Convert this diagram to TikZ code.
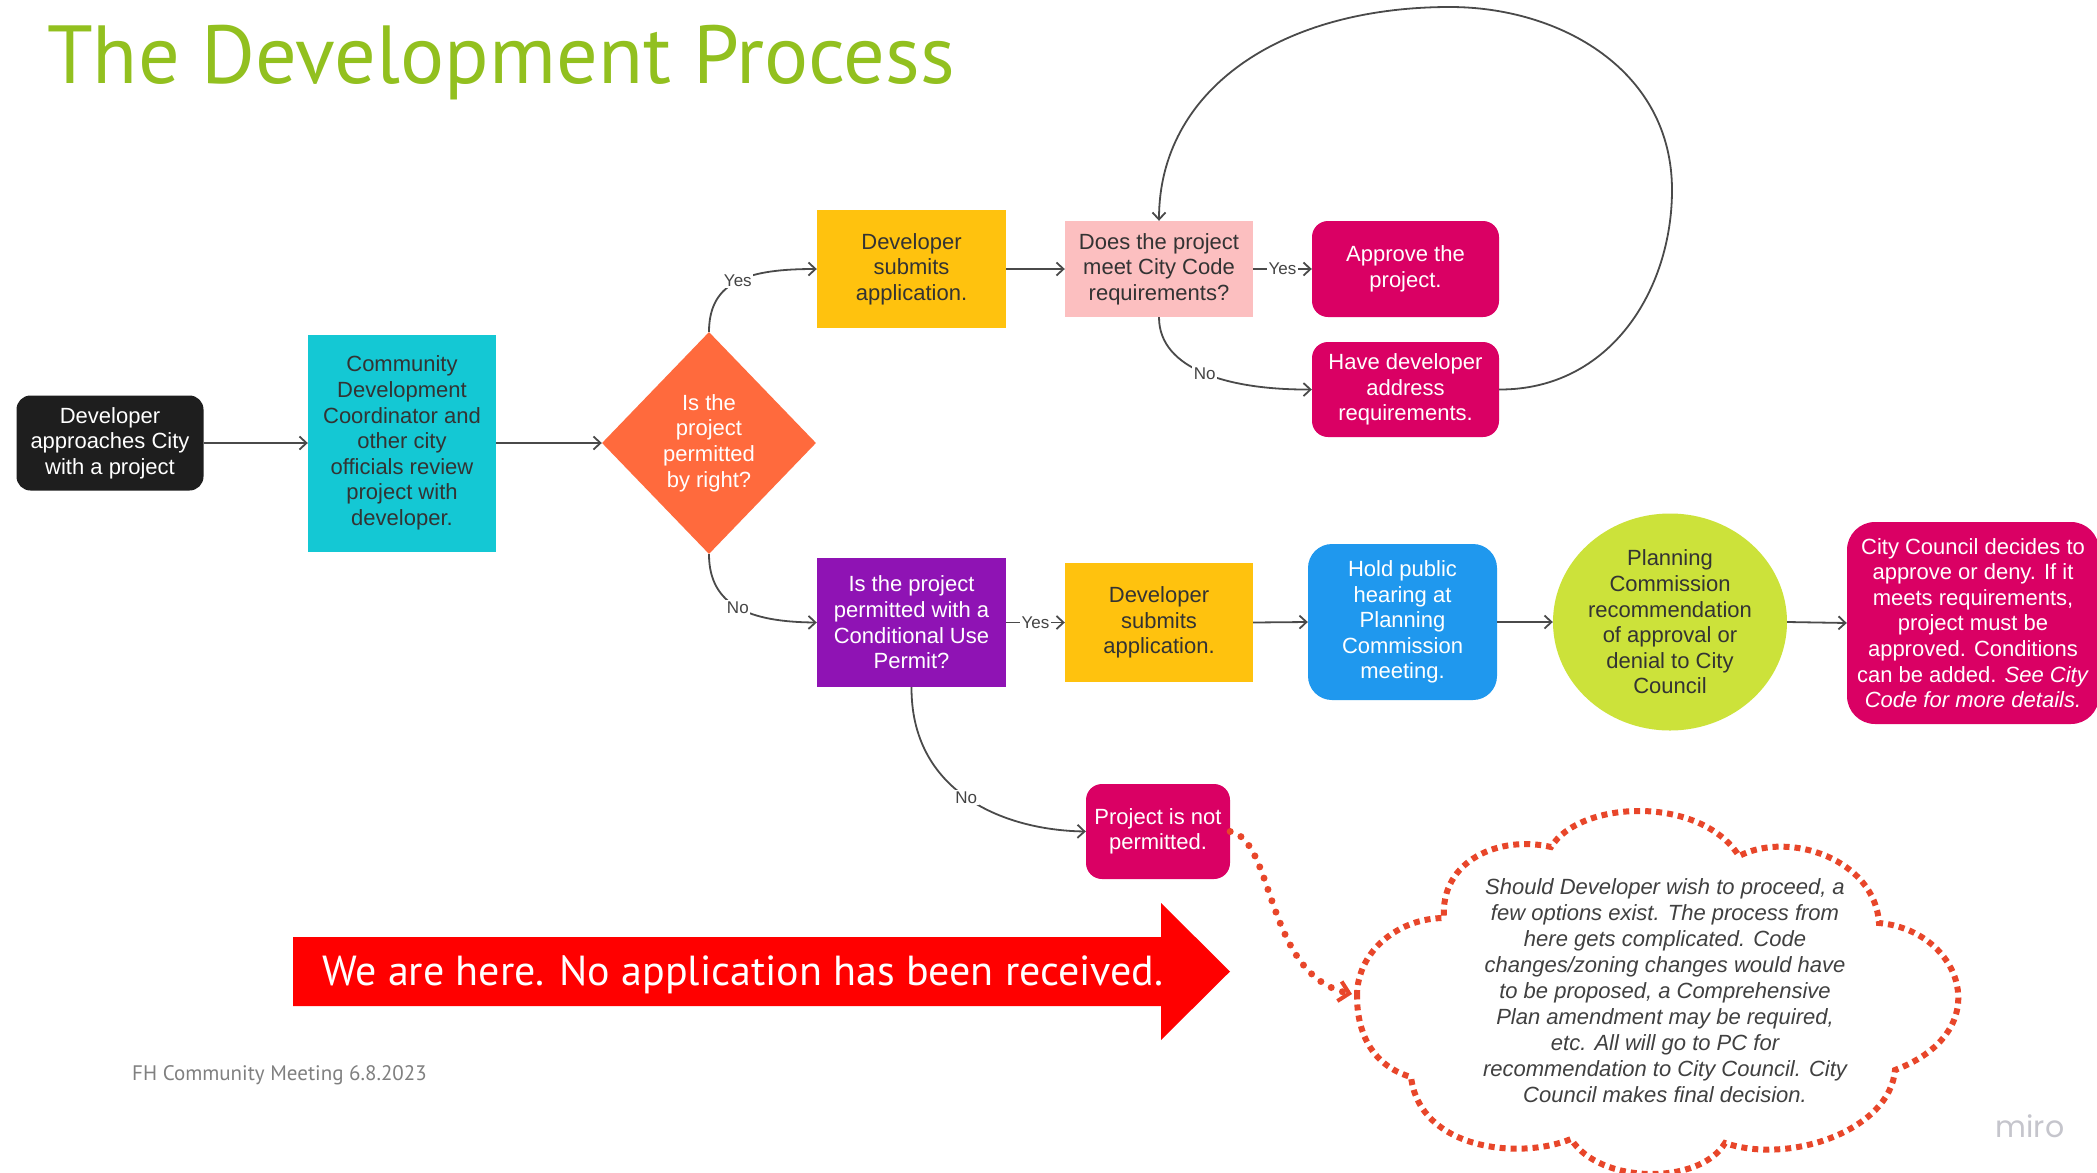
\documentclass[tikz,border=0pt]{standalone}
\usepackage{fontspec}
\setmainfont{Liberation Sans}
\newfontfamily\ptsans{PT Sans}
\newfontfamily\mirofont{Poppins}
\usetikzlibrary{shapes.geometric,arrows.meta}
\definecolor{titlegreen}{HTML}{92C01F}
\definecolor{blkc}{HTML}{1E1E1E}
\definecolor{cyanc}{HTML}{14C8D4}
\definecolor{orangec}{HTML}{FF6A3D}
\definecolor{yellowc}{HTML}{FFC20E}
\definecolor{pinkc}{HTML}{FCBFC0}
\definecolor{magc}{HTML}{DA0064}
\definecolor{purpc}{HTML}{8F13B4}
\definecolor{bluec}{HTML}{1F98EE}
\definecolor{greenc}{HTML}{CCE23A}
\definecolor{redc}{HTML}{FF0000}
\definecolor{cloudc}{HTML}{E8462A}
\definecolor{txtdark}{HTML}{333333}
\definecolor{linec}{HTML}{4A4A4A}
\definecolor{lblc}{HTML}{444444}
\definecolor{cloudtxtc}{HTML}{404040}
\definecolor{footgray}{HTML}{808080}
\definecolor{mirogray}{HTML}{C5C5CC}
\tikzset{
  box/.style={draw=none, inner sep=0pt, align=center, font=\fontsize{22}{25.6}\selectfont},
  txtd/.style={text=txtdark},
  txtw/.style={text=white},
  conn/.style={draw=linec, line width=1.8pt, -{Straight Barb[length=7pt,width=13pt]}},
  lbl/.style={fill=white, inner sep=1.5pt, text=lblc, font=\fontsize{17}{19}\selectfont},
  cloudline/.style={draw=cloudc, line width=6pt, dash pattern=on 6pt off 5pt},
  dotconn/.style={draw=cloudc, line width=7pt, line cap=round, dash pattern=on 0pt off 12pt,
    -{Straight Barb[length=10pt,width=20pt,line width=4pt]}},
}
\begin{document}
\begin{tikzpicture}[x=1pt,y=-1pt]
\useasboundingbox[fill=white] (0,0) rectangle (2097,1173);

% title
\node[anchor=base west, inner sep=0pt, text=titlegreen, font=\ptsans\fontsize{82.4}{84}\selectfont] (title) at (47,83) {The Development Process};

% nodes
\node[box, txtw, fill=blkc, rounded corners=14pt, minimum width=187pt, minimum height=95pt] (blk) at (110,443) {Developer\\approaches City\\with a project};
\node[box, txtd, fill=cyanc, minimum width=188pt, minimum height=217pt] (cyan) at (402,443) {Community\\Development\\Coordinator and\\other city\\officials review\\project with\\developer.};
\node[box, txtw, fill=orangec, diamond, minimum width=214pt, minimum height=222pt] (dia) at (709,443) {Is the\\project\\permitted\\by right?};
\node[box, txtd, fill=yellowc, minimum width=189pt, minimum height=118pt] (ytop) at (911.5,269) {Developer\\submits\\application.};
\node[box, txtd, fill=pinkc, minimum width=188pt, minimum height=96pt] (pink) at (1159,269) {Does the project\\meet City Code\\requirements?};
\node[box, txtw, fill=magc, rounded corners=16pt, minimum width=187pt, minimum height=96pt] (appr) at (1405.5,269) {Approve the\\project.};
\node[box, txtw, fill=magc, rounded corners=16pt, minimum width=187pt, minimum height=95pt] (have) at (1405.5,389.5) {Have developer\\address\\requirements.};
\node[box, txtw, fill=purpc, minimum width=189pt, minimum height=129pt] (purp) at (911.5,622.5) {Is the project\\permitted with a\\Conditional Use\\Permit?};
\node[box, txtd, fill=yellowc, minimum width=188pt, minimum height=119pt] (ybot) at (1159,622.5) {Developer\\submits\\application.};
\node[box, txtw, fill=bluec, rounded corners=24pt, minimum width=189pt, minimum height=156pt] (blue) at (1402.5,622) {Hold public\\hearing at\\Planning\\Commission\\meeting.};
\node[box, txtd, fill=greenc, ellipse, minimum width=234pt, minimum height=217pt] (green) at (1670,622) {Planning\\Commission\\recommendation\\of approval or\\denial to City\\Council};
\node[box, txtw, fill=magc, rounded corners=28pt, minimum width=252pt, minimum height=202pt] (cc) at (1973,623) {City Council decides to\\approve or deny. If it\\meets requirements,\\project must be\\approved. Conditions\\can be added. \textit{See City}\\\textit{Code for more details.}};
\node[box, txtw, fill=magc, rounded corners=16pt, minimum width=144pt, minimum height=95pt] (np) at (1158,831.5) {Project is not\\permitted.};

% connectors
\draw[conn] (blk.east) -- (cyan.west);
\draw[conn] (cyan.east) -- (dia.west);
\draw[conn] (dia.north) .. controls (709,280) and (750,269) .. node[lbl]{Yes} (ytop.west);
\draw[conn] (dia.south) .. controls (709,606) and (750,622) .. node[lbl]{No} (purp.west);
\draw[conn] (ytop.east) -- (pink.west);
\draw[conn] (pink.east) -- node[lbl]{Yes} (appr.west);
\draw[conn] (pink.south) .. controls (1159,370) and (1230,390) .. node[lbl]{No} (have.west);
\draw[conn] (have.east) .. controls (1610,390) and (1672,290) .. (1672,190)
  .. controls (1672,70) and (1560,7) .. (1450,7)
  .. controls (1280,7) and (1159,90) .. (pink.north);
\draw[conn] (purp.east) -- node[lbl]{Yes} (ybot.west);
\draw[conn] (ybot.east) -- (blue.west);
\draw[conn] (blue.east) -- (green.west);
\draw[conn] (green.east) -- (cc.west);
\draw[conn] (purp.south) .. controls (911,790) and (1000,830) .. node[lbl]{No} (np.west);

% cloud
\draw[cloudline] (1357,996) .. controls (1357,950) and (1400,918) .. (1444,918)
  .. controls (1440,860) and (1500,835) .. (1551,847)
  .. controls (1580,800) and (1700,795) .. (1739,856)
  .. controls (1790,830) and (1875,860) .. (1879,923)
  .. controls (1960,930) and (2000,1030) .. (1895,1070)
  .. controls (1890,1130) and (1790,1165) .. (1725,1143)
  .. controls (1700,1185) and (1600,1185) .. (1571,1139)
  .. controls (1520,1160) and (1420,1150) .. (1411,1077)
  .. controls (1370,1065) and (1357,1030) .. (1357,996);
\coordinate (cloudL) at (1352,994);
\node[inner sep=0pt, align=center, text=cloudtxtc, font=\itshape\fontsize{22}{26}\selectfont] (cloudtxt) at (1665,991) {Should Developer wish to proceed, a\\few options exist. The process from\\here gets complicated. Code\\changes/zoning changes would have\\to be proposed, a Comprehensive\\Plan amendment may be required,\\etc. All will go to PC for\\recommendation to City Council. City\\Council makes final decision.};
\draw[dotconn] (np.east) .. controls (1275,840) and (1265,975) .. (cloudL);

% red arrow
\fill[redc] (293,937) -- (1161,937) -- (1161,903) -- (1230,971.5) -- (1161,1040) -- (1161,1006) -- (293,1006) -- cycle;
\node[inner sep=0pt, text=white, font=\ptsans\fontsize{42}{42}\selectfont] (here) at (743,975) {We are here. No application has been received.};

% footer
\node[anchor=west, inner sep=0pt, text=footgray, font=\ptsans\fontsize{21}{21}\selectfont] (foot) at (132,1075) {FH Community Meeting 6.8.2023};
\node[inner sep=0pt, text=mirogray, font=\mirofont\fontsize{30}{30}\selectfont] (miro) at (2030,1126) {miro};
\end{tikzpicture}
\end{document}
